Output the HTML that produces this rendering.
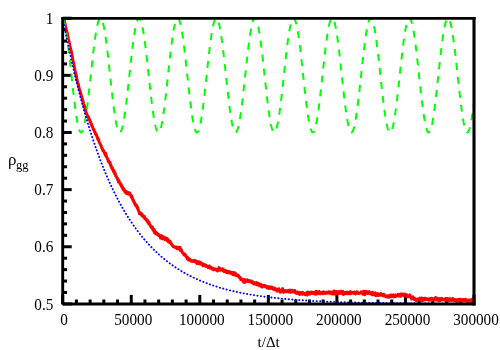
<!DOCTYPE html>
<html><head><meta charset="utf-8"><title>plot</title>
<style>
html,body{margin:0;padding:0;background:#fff;}
body{width:500px;height:350px;overflow:hidden;}
svg{display:block;will-change:transform;transform:translateZ(0);}
text{font-family:"Liberation Serif",serif;font-size:15px;fill:#000;}
</style></head><body>
<svg width="500" height="350" viewBox="0 0 500 350">
<rect width="500" height="350" fill="#fff"/>
<defs><clipPath id="c"><rect x="62.7" y="18.2" width="411.3" height="285.7"/></clipPath></defs>
<g stroke="#000" stroke-width="3" fill="none">
<line x1="62.70" y1="303.90" x2="62.70" y2="294.90"/><line x1="76.41" y1="303.90" x2="76.41" y2="299.50"/><line x1="90.12" y1="303.90" x2="90.12" y2="299.50"/><line x1="103.83" y1="303.90" x2="103.83" y2="299.50"/><line x1="117.54" y1="303.90" x2="117.54" y2="299.50"/><line x1="131.25" y1="303.90" x2="131.25" y2="294.90"/><line x1="144.96" y1="303.90" x2="144.96" y2="299.50"/><line x1="158.67" y1="303.90" x2="158.67" y2="299.50"/><line x1="172.38" y1="303.90" x2="172.38" y2="299.50"/><line x1="186.09" y1="303.90" x2="186.09" y2="299.50"/><line x1="199.80" y1="303.90" x2="199.80" y2="294.90"/><line x1="213.51" y1="303.90" x2="213.51" y2="299.50"/><line x1="227.22" y1="303.90" x2="227.22" y2="299.50"/><line x1="240.93" y1="303.90" x2="240.93" y2="299.50"/><line x1="254.64" y1="303.90" x2="254.64" y2="299.50"/><line x1="268.35" y1="303.90" x2="268.35" y2="294.90"/><line x1="282.06" y1="303.90" x2="282.06" y2="299.50"/><line x1="295.77" y1="303.90" x2="295.77" y2="299.50"/><line x1="309.48" y1="303.90" x2="309.48" y2="299.50"/><line x1="323.19" y1="303.90" x2="323.19" y2="299.50"/><line x1="336.90" y1="303.90" x2="336.90" y2="294.90"/><line x1="350.61" y1="303.90" x2="350.61" y2="299.50"/><line x1="364.32" y1="303.90" x2="364.32" y2="299.50"/><line x1="378.03" y1="303.90" x2="378.03" y2="299.50"/><line x1="391.74" y1="303.90" x2="391.74" y2="299.50"/><line x1="405.45" y1="303.90" x2="405.45" y2="294.90"/><line x1="419.16" y1="303.90" x2="419.16" y2="299.50"/><line x1="432.87" y1="303.90" x2="432.87" y2="299.50"/><line x1="446.58" y1="303.90" x2="446.58" y2="299.50"/><line x1="460.29" y1="303.90" x2="460.29" y2="299.50"/><line x1="474.00" y1="303.90" x2="474.00" y2="294.90"/><line x1="62.70" y1="303.90" x2="71.70" y2="303.90"/><line x1="62.70" y1="292.47" x2="67.10" y2="292.47"/><line x1="62.70" y1="281.04" x2="67.10" y2="281.04"/><line x1="62.70" y1="269.62" x2="67.10" y2="269.62"/><line x1="62.70" y1="258.19" x2="67.10" y2="258.19"/><line x1="62.70" y1="246.76" x2="71.70" y2="246.76"/><line x1="62.70" y1="235.33" x2="67.10" y2="235.33"/><line x1="62.70" y1="223.90" x2="67.10" y2="223.90"/><line x1="62.70" y1="212.48" x2="67.10" y2="212.48"/><line x1="62.70" y1="201.05" x2="67.10" y2="201.05"/><line x1="62.70" y1="189.62" x2="71.70" y2="189.62"/><line x1="62.70" y1="178.19" x2="67.10" y2="178.19"/><line x1="62.70" y1="166.76" x2="67.10" y2="166.76"/><line x1="62.70" y1="155.34" x2="67.10" y2="155.34"/><line x1="62.70" y1="143.91" x2="67.10" y2="143.91"/><line x1="62.70" y1="132.48" x2="71.70" y2="132.48"/><line x1="62.70" y1="121.05" x2="67.10" y2="121.05"/><line x1="62.70" y1="109.62" x2="67.10" y2="109.62"/><line x1="62.70" y1="98.20" x2="67.10" y2="98.20"/><line x1="62.70" y1="86.77" x2="67.10" y2="86.77"/><line x1="62.70" y1="75.34" x2="71.70" y2="75.34"/><line x1="62.70" y1="63.91" x2="67.10" y2="63.91"/><line x1="62.70" y1="52.48" x2="67.10" y2="52.48"/><line x1="62.70" y1="41.06" x2="67.10" y2="41.06"/><line x1="62.70" y1="29.63" x2="67.10" y2="29.63"/><line x1="62.70" y1="18.20" x2="71.70" y2="18.20"/>
</g>
<g clip-path="url(#c)" fill="none">
<path d="M62.70 18.20 L63.00 18.20 L63.30 18.20 L63.60 18.20 L63.90 18.20 L64.20 18.20 L64.50 19.23 L64.80 20.50 L65.10 22.02 L65.40 23.38 L65.70 24.85 L66.00 26.27 L66.30 27.41 L66.60 29.28 L66.90 30.67 L67.20 32.12" stroke="#ff0000" stroke-width="2.20" stroke-linejoin="round" stroke-linecap="round"/><path d="M66.90 30.67 L67.20 32.12 L67.50 33.07 L67.80 34.43 L68.10 36.00 L68.40 37.48 L68.70 39.06 L69.00 40.36 L69.30 41.89 L69.60 42.98 L69.90 44.62 L70.20 46.01 L70.50 47.06 L70.80 49.10 L71.10 50.18" stroke="#ff0000" stroke-width="2.45" stroke-linejoin="round" stroke-linecap="round"/><path d="M70.80 49.10 L71.10 50.18 L71.40 51.93 L71.70 52.92 L72.00 54.43 L72.30 56.11 L72.60 57.73 L72.90 59.53 L73.20 60.95 L73.50 62.26 L73.80 63.63 L74.10 65.31 L74.40 67.42 L74.70 68.16 L75.00 70.02 L75.30 71.57 L75.60 72.32 L75.90 74.39 L76.20 76.36" stroke="#ff0000" stroke-width="2.75" stroke-linejoin="round" stroke-linecap="round"/><path d="M75.90 74.39 L76.20 76.36 L76.50 76.54 L76.80 78.68 L77.10 80.13 L77.40 80.96 L77.70 82.62 L78.00 83.51 L78.30 84.04 L78.60 86.12 L78.90 87.18 L79.20 88.42 L79.50 89.75 L79.80 90.41 L80.10 91.41 L80.40 91.87 L80.70 93.79 L81.00 94.33 L81.30 95.48 L81.60 96.19 L81.90 97.40 L82.20 98.68 L82.50 100.59 L82.80 100.15 L83.10 101.47 L83.40 103.27 L83.70 104.85 L84.00 105.47 L84.30 105.33 L84.60 106.05 L84.90 108.43 L85.20 108.93 L85.50 109.76 L85.80 111.79 L86.10 112.76 L86.40 112.99 L86.70 113.72 L87.00 114.50 L87.30 115.75 L87.60 115.96 L87.90 116.60 L88.20 117.30 L88.50 116.94 L88.80 119.03 L89.10 119.56 L89.40 120.03 L89.70 119.47 L90.00 120.83 L90.30 122.25 L90.60 121.60 L90.90 123.11 L91.20 124.40 L91.50 123.91 L91.80 126.07 L92.10 126.22 L92.40 126.55 L92.70 127.48 L93.00 128.33 L93.30 128.71 L93.60 129.89 L93.90 129.61 L94.20 130.39 L94.50 131.79 L94.80 131.91 L95.10 132.09 L95.40 133.69 L95.70 134.62 L96.00 134.27 L96.30 134.43 L96.60 135.73 L96.90 136.37 L97.20 136.94 L97.50 138.49 L97.80 137.86 L98.10 139.72 L98.40 139.03 L98.70 139.93 L99.00 141.34 L99.30 142.30 L99.60 142.86 L99.90 143.29 L100.20 143.88 L100.50 144.58 L100.80 145.51 L101.10 145.80 L101.40 146.75 L101.70 147.61 L102.00 148.00 L102.30 148.98 L102.60 149.43 L102.90 150.79 L103.20 150.43 L103.50 150.58 L103.80 151.17 L104.10 151.93 L104.40 153.01 L104.70 152.88 L105.00 153.84 L105.30 155.20 L105.60 153.33 L105.90 154.69 L106.20 156.05 L106.50 156.75 L106.80 157.28 L107.10 157.53 L107.40 158.75 L107.70 159.16 L108.00 159.33 L108.30 161.61 L108.60 161.06 L108.90 161.17 L109.20 162.04 L109.50 162.59 L109.80 163.30 L110.10 162.41 L110.40 164.30 L110.70 165.77 L111.00 165.15 L111.30 166.39 L111.60 167.59 L111.90 168.16 L112.20 169.14 L112.50 167.93 L112.80 169.32 L113.10 169.95 L113.40 171.12 L113.70 172.01 L114.00 170.45 L114.30 173.19 L114.60 172.29 L114.90 174.08 L115.20 173.39 L115.50 174.91 L115.80 176.07 L116.10 175.85 L116.40 176.61 L116.70 177.53 L117.00 177.71 L117.30 178.14 L117.60 179.65 L117.90 179.93 L118.20 179.70 L118.50 182.05 L118.80 180.33 L119.10 182.10 L119.40 181.97 L119.70 182.77 L120.00 183.67 L120.30 183.94 L120.60 184.75 L120.90 184.03 L121.20 184.61 L121.50 186.43 L121.80 186.05 L122.10 186.53 L122.40 186.67 L122.70 188.70 L123.00 188.79 L123.30 189.63 L123.60 188.60 L123.90 189.57 L124.20 189.29 L124.50 190.83 L124.80 191.73 L125.10 190.65 L125.40 192.52 L125.70 192.59 L126.00 192.29 L126.30 191.31 L126.60 193.42 L126.90 192.61 L127.20 192.40 L127.50 193.09 L127.80 193.19 L128.10 193.93 L128.40 192.51 L128.70 193.89 L129.00 194.19 L129.30 194.26 L129.60 193.37 L129.90 193.12 L130.20 194.65 L130.50 194.77 L130.80 195.43 L131.10 196.88 L131.40 196.52 L131.70 195.95 L132.00 197.77 L132.30 197.43 L132.60 199.60 L132.90 199.84 L133.20 199.83 L133.50 200.74 L133.80 201.81 L134.10 201.90 L134.40 203.21 L134.70 202.91 L135.00 204.13 L135.30 204.96 L135.60 205.58 L135.90 204.74 L136.20 206.24 L136.50 205.10 L136.80 206.14 L137.10 206.15 L137.40 208.55 L137.70 207.70 L138.00 208.99 L138.30 209.78 L138.60 210.78 L138.90 211.34 L139.20 212.34 L139.50 213.60 L139.80 212.83 L140.10 213.43 L140.40 214.02 L140.70 213.58 L141.00 213.22 L141.30 213.96 L141.60 215.26 L141.90 213.88 L142.20 214.83 L142.50 216.12 L142.80 216.29 L143.10 216.10 L143.40 216.90 L143.70 216.80 L144.00 216.27 L144.30 216.43 L144.60 217.40 L144.90 218.77 L145.20 218.25 L145.50 218.44 L145.80 218.92 L146.10 218.85 L146.40 220.13 L146.70 219.87 L147.00 221.23 L147.30 219.93 L147.60 222.00 L147.90 221.80 L148.20 221.39 L148.50 223.45 L148.80 223.23 L149.10 222.41 L149.40 223.65 L149.70 224.78 L150.00 224.71 L150.30 225.89 L150.60 226.27 L150.90 226.62 L151.20 226.80 L151.50 227.83 L151.80 227.81 L152.10 228.08 L152.40 226.89 L152.70 229.16 L153.00 229.82 L153.30 229.21 L153.60 229.51 L153.90 231.42 L154.20 229.50 L154.50 231.29 L154.80 232.92 L155.10 231.22 L155.40 232.63 L155.70 233.79 L156.00 232.92 L156.30 233.58 L156.60 234.03 L156.90 233.12 L157.20 233.86 L157.50 234.33 L157.80 234.90 L158.10 234.59 L158.40 234.72 L158.70 234.43 L159.00 235.07 L159.30 236.09 L159.60 235.82 L159.90 235.45 L160.20 235.69 L160.50 238.13 L160.80 237.40 L161.10 237.31 L161.40 235.50 L161.70 237.76 L162.00 237.90 L162.30 238.75 L162.60 238.04 L162.90 237.81 L163.20 238.27 L163.50 236.79 L163.80 238.76 L164.10 238.39 L164.40 237.83 L164.70 239.19 L165.00 239.58 L165.30 237.64 L165.60 238.19 L165.90 238.88 L166.20 238.89 L166.50 238.61 L166.80 238.33 L167.10 240.46 L167.40 240.11 L167.70 239.04 L168.00 239.29 L168.30 241.57 L168.60 241.46 L168.90 242.33 L169.20 242.03 L169.50 241.30 L169.80 242.37 L170.10 241.17 L170.40 242.41 L170.70 243.19 L171.00 243.90 L171.30 243.45 L171.60 244.18 L171.90 244.89 L172.20 245.18 L172.50 245.69 L172.80 245.76 L173.10 245.77 L173.40 246.82 L173.70 246.69 L174.00 246.47 L174.30 246.70 L174.60 247.20 L174.90 247.23 L175.20 247.50 L175.50 247.50 L175.80 247.71 L176.10 247.61 L176.40 247.00 L176.70 248.17 L177.00 248.67 L177.30 248.38 L177.60 248.08 L177.90 248.58 L178.20 247.78 L178.50 247.29 L178.80 248.64 L179.10 248.11 L179.40 249.27 L179.70 248.21 L180.00 247.32 L180.30 248.70 L180.60 250.73 L180.90 249.84 L181.20 249.57 L181.50 250.31 L181.80 251.49 L182.10 251.84 L182.40 251.99 L182.70 253.19 L183.00 253.05 L183.30 252.95 L183.60 253.70 L183.90 254.74 L184.20 254.66 L184.50 255.06 L184.80 254.07 L185.10 255.00 L185.40 255.87 L185.70 255.51 L186.00 256.68 L186.30 256.68 L186.60 257.18 L186.90 256.76 L187.20 258.83 L187.50 258.30 L187.80 257.66 L188.10 258.16 L188.40 260.07 L188.70 258.48 L189.00 259.56 L189.30 259.93 L189.60 259.60 L189.90 259.15 L190.20 260.19 L190.50 260.40 L190.80 261.00 L191.10 260.88 L191.40 260.49 L191.70 261.13 L192.00 261.03 L192.30 260.91 L192.60 260.92 L192.90 260.83 L193.20 261.53 L193.50 260.51 L193.80 260.89 L194.10 261.40 L194.40 260.55 L194.70 261.32 L195.00 260.41 L195.30 261.36 L195.60 262.27 L195.90 262.37 L196.20 262.07 L196.50 262.06 L196.80 261.40 L197.10 263.59 L197.40 262.85 L197.70 263.32 L198.00 262.15 L198.30 262.70 L198.60 261.75 L198.90 263.53 L199.20 263.73 L199.50 262.01 L199.80 263.30 L200.10 263.85 L200.40 262.45 L200.70 262.55 L201.00 263.17 L201.30 263.59 L201.60 263.23 L201.90 264.29 L202.20 264.57 L202.50 264.96 L202.80 265.14 L203.10 265.79 L203.40 265.71 L203.70 264.26 L204.00 264.91 L204.30 264.70 L204.60 264.82 L204.90 265.60 L205.20 265.80 L205.50 266.25 L205.80 265.05 L206.10 265.41 L206.40 266.33 L206.70 266.35 L207.00 266.42 L207.30 266.72 L207.60 266.41 L207.90 267.49 L208.20 267.40 L208.50 267.25 L208.80 267.01 L209.10 267.47 L209.40 265.97 L209.70 267.23 L210.00 268.02 L210.30 267.13 L210.60 268.33 L210.90 268.40 L211.20 267.51 L211.50 268.34 L211.80 268.40 L212.10 269.00 L212.40 269.19 L212.70 268.88 L213.00 268.45 L213.30 269.01 L213.60 269.16 L213.90 269.77 L214.20 269.59 L214.50 269.03 L214.80 268.73 L215.10 269.46 L215.40 269.32 L215.70 269.18 L216.00 269.93 L216.30 269.60 L216.60 269.90 L216.90 270.09 L217.20 269.40 L217.50 271.08 L217.80 269.29 L218.10 270.12 L218.40 269.41 L218.70 269.96 L219.00 267.63 L219.30 268.59 L219.60 269.15 L219.90 269.30 L220.20 270.33 L220.50 268.95 L220.80 269.48 L221.10 269.15 L221.40 269.44 L221.70 269.32 L222.00 269.06 L222.30 269.66 L222.60 268.80 L222.90 270.43 L223.20 269.18 L223.50 270.16 L223.80 271.54 L224.10 270.19 L224.40 270.52 L224.70 271.42 L225.00 270.86 L225.30 270.49 L225.60 271.34 L225.90 271.72 L226.20 271.90 L226.50 271.02 L226.80 272.71 L227.10 272.73 L227.40 271.73 L227.70 271.96 L228.00 271.58 L228.30 272.84 L228.60 271.54 L228.90 272.50 L229.20 271.82 L229.50 271.75 L229.80 272.73 L230.10 273.20 L230.40 272.40 L230.70 272.04 L231.00 273.07 L231.30 272.58 L231.60 272.88 L231.90 273.73 L232.20 273.55 L232.50 272.55 L232.80 274.43 L233.10 273.06 L233.40 273.75 L233.70 273.00 L234.00 273.57 L234.30 272.65 L234.60 275.11 L234.90 275.02 L235.20 273.53 L235.50 273.53 L235.80 273.63 L236.10 275.62 L236.40 274.74 L236.70 275.18 L237.00 275.20 L237.30 275.50 L237.60 275.06 L237.90 275.96 L238.20 275.25 L238.50 276.41 L238.80 276.94 L239.10 277.31 L239.40 277.14 L239.70 276.98 L240.00 277.94 L240.30 277.80 L240.60 279.41 L240.90 279.17 L241.20 278.87 L241.50 278.91 L241.80 279.04 L242.10 279.16 L242.40 279.82 L242.70 280.51 L243.00 280.93 L243.30 281.00 L243.60 282.03 L243.90 280.25 L244.20 280.75 L244.50 282.58 L244.80 279.60 L245.10 280.50 L245.40 280.98 L245.70 281.01 L246.00 281.21 L246.30 280.82 L246.60 281.25 L246.90 281.08 L247.20 281.58 L247.50 279.89 L247.80 280.58 L248.10 281.18 L248.40 280.55 L248.70 280.57 L249.00 281.69 L249.30 280.90 L249.60 281.77 L249.90 281.87 L250.20 281.67 L250.50 281.91 L250.80 281.62 L251.10 280.88 L251.40 281.88 L251.70 282.31 L252.00 281.78 L252.30 282.16 L252.60 282.82 L252.90 281.87 L253.20 282.97 L253.50 283.87 L253.80 282.41 L254.10 282.97 L254.40 282.89 L254.70 284.09 L255.00 283.41 L255.30 283.89 L255.60 282.97 L255.90 283.51 L256.20 283.63 L256.50 282.59 L256.80 284.78 L257.10 284.54 L257.40 282.93 L257.70 284.65 L258.00 284.19 L258.30 284.68 L258.60 284.73 L258.90 283.63 L259.20 284.57 L259.50 285.79 L259.80 284.56 L260.10 284.36 L260.40 284.23 L260.70 284.40 L261.00 285.50 L261.30 286.46 L261.60 285.73 L261.90 285.69 L262.20 287.06 L262.50 285.36 L262.80 285.35 L263.10 286.21 L263.40 286.31 L263.70 285.38 L264.00 285.36 L264.30 286.39 L264.60 286.45 L264.90 285.52 L265.20 286.32 L265.50 286.19 L265.80 286.92 L266.10 286.63 L266.40 286.74 L266.70 286.65 L267.00 287.64 L267.30 287.95 L267.60 286.89 L267.90 287.76 L268.20 286.80 L268.50 287.43 L268.80 287.95 L269.10 288.53 L269.40 287.38 L269.70 287.67 L270.00 287.93 L270.30 286.91 L270.60 287.97 L270.90 287.61 L271.20 288.37 L271.50 287.48 L271.80 287.01 L272.10 288.40 L272.40 288.62 L272.70 288.18 L273.00 289.20 L273.30 288.52 L273.60 288.39 L273.90 289.17 L274.20 287.93 L274.50 288.59 L274.80 289.10 L275.10 289.74 L275.40 289.17 L275.70 289.55 L276.00 289.01 L276.30 289.71 L276.60 290.68 L276.90 289.24 L277.20 291.30 L277.50 289.43 L277.80 289.94 L278.10 290.12 L278.40 290.76 L278.70 289.37 L279.00 288.89 L279.30 290.73 L279.60 290.93 L279.90 290.90 L280.20 292.29 L280.50 290.80 L280.80 290.91 L281.10 291.41 L281.40 291.05 L281.70 291.91 L282.00 290.03 L282.30 290.60 L282.60 288.62 L282.90 291.40 L283.20 290.64 L283.50 291.49 L283.80 292.30 L284.10 290.91 L284.40 290.76 L284.70 290.61 L285.00 290.40 L285.30 290.55 L285.60 291.38 L285.90 291.00 L286.20 291.03 L286.50 290.89 L286.80 291.60 L287.10 291.34 L287.40 290.94 L287.70 291.48 L288.00 290.96 L288.30 290.32 L288.60 292.02 L288.90 291.39 L289.20 290.48 L289.50 291.81 L289.80 291.34 L290.10 290.12 L290.40 292.19 L290.70 291.37 L291.00 291.74 L291.30 291.30 L291.60 291.09 L291.90 290.19 L292.20 291.88 L292.50 291.33 L292.80 291.20 L293.10 291.68 L293.40 291.57 L293.70 292.03 L294.00 291.41 L294.30 291.70 L294.60 290.40 L294.90 291.58 L295.20 292.37 L295.50 292.86 L295.80 291.83 L296.10 292.05 L296.40 293.23 L296.70 292.06 L297.00 292.81 L297.30 293.49 L297.60 292.50 L297.90 293.34 L298.20 292.15 L298.50 292.81 L298.80 292.70 L299.10 292.89 L299.40 293.62 L299.70 294.50 L300.00 292.59 L300.30 292.71 L300.60 293.48 L300.90 292.54 L301.20 293.61 L301.50 293.73 L301.80 293.25 L302.10 293.84 L302.40 292.56 L302.70 294.13 L303.00 292.70 L303.30 293.23 L303.60 293.30 L303.90 293.38 L304.20 294.18 L304.50 293.66 L304.80 293.33 L305.10 293.92 L305.40 294.57 L305.70 293.53 L306.00 293.75 L306.30 294.30 L306.60 293.64 L306.90 292.62 L307.20 295.05 L307.50 294.85 L307.80 292.11 L308.10 293.35 L308.40 293.63 L308.70 293.96 L309.00 293.75 L309.30 293.12 L309.60 292.60 L309.90 293.33 L310.20 293.91 L310.50 292.51 L310.80 292.54 L311.10 293.17 L311.40 291.91 L311.70 292.98 L312.00 292.84 L312.30 293.40 L312.60 292.63 L312.90 292.50 L313.20 292.79 L313.50 293.00 L313.80 292.58 L314.10 293.00 L314.40 293.47 L314.70 293.74 L315.00 294.07 L315.30 292.44 L315.60 292.67 L315.90 291.32 L316.20 294.15 L316.50 292.44 L316.80 292.88 L317.10 293.23 L317.40 291.99 L317.70 293.17 L318.00 292.84 L318.30 291.66 L318.60 293.02 L318.90 293.60 L319.20 291.60 L319.50 293.32 L319.80 292.92 L320.10 293.09 L320.40 293.05 L320.70 293.60 L321.00 292.60 L321.30 293.30 L321.60 292.46 L321.90 293.19 L322.20 292.17 L322.50 292.62 L322.80 293.80 L323.10 292.96 L323.40 292.56 L323.70 291.90 L324.00 292.12 L324.30 292.75 L324.60 293.22 L324.90 292.88 L325.20 292.94 L325.50 292.57 L325.80 293.48 L326.10 292.35 L326.40 292.24 L326.70 293.18 L327.00 292.64 L327.30 292.42 L327.60 292.23 L327.90 292.43 L328.20 293.00 L328.50 292.83 L328.80 291.81 L329.10 292.88 L329.40 292.72 L329.70 291.95 L330.00 293.10 L330.30 292.42 L330.60 292.38 L330.90 293.12 L331.20 293.46 L331.50 292.15 L331.80 292.88 L332.10 292.03 L332.40 294.10 L332.70 292.28 L333.00 293.38 L333.30 292.18 L333.60 293.13 L333.90 294.04 L334.20 290.95 L334.50 292.32 L334.80 292.93 L335.10 292.54 L335.40 292.17 L335.70 294.00 L336.00 292.65 L336.30 291.54 L336.60 293.18 L336.90 291.51 L337.20 293.39 L337.50 292.28 L337.80 292.76 L338.10 293.50 L338.40 292.76 L338.70 291.79 L339.00 291.61 L339.30 293.49 L339.60 293.21 L339.90 292.21 L340.20 293.31 L340.50 293.09 L340.80 293.20 L341.10 291.32 L341.40 292.60 L341.70 293.39 L342.00 293.29 L342.30 293.40 L342.60 291.24 L342.90 292.96 L343.20 293.18 L343.50 294.53 L343.80 292.26 L344.10 292.68 L344.40 292.93 L344.70 293.49 L345.00 292.64 L345.30 293.68 L345.60 292.44 L345.90 293.13 L346.20 292.63 L346.50 293.08 L346.80 292.54 L347.10 291.96 L347.40 293.71 L347.70 293.20 L348.00 292.64 L348.30 293.13 L348.60 293.64 L348.90 292.37 L349.20 292.93 L349.50 293.35 L349.80 293.34 L350.10 292.78 L350.40 291.63 L350.70 293.81 L351.00 293.21 L351.30 293.01 L351.60 292.82 L351.90 293.17 L352.20 292.72 L352.50 292.33 L352.80 292.52 L353.10 292.61 L353.40 292.60 L353.70 292.25 L354.00 293.41 L354.30 292.15 L354.60 293.43 L354.90 292.34 L355.20 293.23 L355.50 293.89 L355.80 293.13 L356.10 292.53 L356.40 293.03 L356.70 293.10 L357.00 291.87 L357.30 292.61 L357.60 293.11 L357.90 292.70 L358.20 293.05 L358.50 293.48 L358.80 293.50 L359.10 293.59 L359.40 293.38 L359.70 292.81 L360.00 292.99 L360.30 292.82 L360.60 292.80 L360.90 292.88 L361.20 291.88 L361.50 292.78 L361.80 292.98 L362.10 292.37 L362.40 292.98 L362.70 293.33 L363.00 292.89 L363.30 294.35 L363.60 291.31 L363.90 292.87 L364.20 291.81 L364.50 293.64 L364.80 294.72 L365.10 291.37 L365.40 293.08 L365.70 293.34 L366.00 292.80 L366.30 293.36 L366.60 291.54 L366.90 293.55 L367.20 293.24 L367.50 293.01 L367.80 292.62 L368.10 293.41 L368.40 292.68 L368.70 293.14 L369.00 292.67 L369.30 291.59 L369.60 293.08 L369.90 293.28 L370.20 293.69 L370.50 292.68 L370.80 293.28 L371.10 293.75 L371.40 293.49 L371.70 294.26 L372.00 294.79 L372.30 292.96 L372.60 292.35 L372.90 294.21 L373.20 294.69 L373.50 294.35 L373.80 294.33 L374.10 293.45 L374.40 293.44 L374.70 294.53 L375.00 293.41 L375.30 292.87 L375.60 293.45 L375.90 295.77 L376.20 295.45 L376.50 293.80 L376.80 293.83 L377.10 294.50 L377.40 293.91 L377.70 295.30 L378.00 294.45 L378.30 293.85 L378.60 295.46 L378.90 294.29 L379.20 294.87 L379.50 294.77 L379.80 294.63 L380.10 295.10 L380.40 294.50 L380.70 293.81 L381.00 293.63 L381.30 294.30 L381.60 294.68 L381.90 295.22 L382.20 295.32 L382.50 295.71 L382.80 295.48 L383.10 294.94 L383.40 295.05 L383.70 294.19 L384.00 295.52 L384.30 296.00 L384.60 296.08 L384.90 295.71 L385.20 295.74 L385.50 296.51 L385.80 295.97 L386.10 296.50 L386.40 296.45 L386.70 296.27 L387.00 297.04 L387.30 295.87 L387.60 296.07 L387.90 295.74 L388.20 295.71 L388.50 297.20 L388.80 297.29 L389.10 296.13 L389.40 296.44 L389.70 296.80 L390.00 296.52 L390.30 296.75 L390.60 295.10 L390.90 295.47 L391.20 296.14 L391.50 296.75 L391.80 295.84 L392.10 295.18 L392.40 295.47 L392.70 295.23 L393.00 295.07 L393.30 296.56 L393.60 295.14 L393.90 295.53 L394.20 296.88 L394.50 296.21 L394.80 295.62 L395.10 294.96 L395.40 295.59 L395.70 296.34 L396.00 295.65 L396.30 296.03 L396.60 295.25 L396.90 295.51 L397.20 295.02 L397.50 295.41 L397.80 295.96 L398.10 294.17 L398.40 295.04 L398.70 295.22 L399.00 294.67 L399.30 294.82 L399.60 295.52 L399.90 296.29 L400.20 295.38 L400.50 295.16 L400.80 293.93 L401.10 296.17 L401.40 294.95 L401.70 294.86 L402.00 294.13 L402.30 294.81 L402.60 294.11 L402.90 294.85 L403.20 295.15 L403.50 294.93 L403.80 295.16 L404.10 294.50 L404.40 296.05 L404.70 294.76 L405.00 294.07 L405.30 295.20 L405.60 294.89 L405.90 294.80 L406.20 295.30 L406.50 295.78 L406.80 294.90 L407.10 295.64 L407.40 296.73 L407.70 296.31 L408.00 295.84 L408.30 296.09 L408.60 295.99 L408.90 296.11 L409.20 296.68 L409.50 296.22 L409.80 294.87 L410.10 296.62 L410.40 296.25 L410.70 297.45 L411.00 296.83 L411.30 297.52 L411.60 299.03 L411.90 297.14 L412.20 297.28 L412.50 297.29 L412.80 296.85 L413.10 297.39 L413.40 299.04 L413.70 298.59 L414.00 297.99 L414.30 298.24 L414.60 299.60 L414.90 298.70 L415.20 298.96 L415.50 299.41 L415.80 300.08 L416.10 300.46 L416.40 299.87 L416.70 299.29 L417.00 299.32 L417.30 300.37 L417.60 300.13 L417.90 299.00 L418.20 299.50 L418.50 299.39 L418.80 299.23 L419.10 298.88 L419.40 298.34 L419.70 298.85 L420.00 298.20 L420.30 300.00 L420.60 299.55 L420.90 298.42 L421.20 300.11 L421.50 299.78 L421.80 297.96 L422.10 300.40 L422.40 299.73 L422.70 300.54 L423.00 298.40 L423.30 299.54 L423.60 299.47 L423.90 299.33 L424.20 299.31 L424.50 299.88 L424.80 298.23 L425.10 298.39 L425.40 298.29 L425.70 298.84 L426.00 298.81 L426.30 299.44 L426.60 299.37 L426.90 299.22 L427.20 298.76 L427.50 298.91 L427.80 299.82 L428.10 299.70 L428.40 299.27 L428.70 298.99 L429.00 300.21 L429.30 298.81 L429.60 299.62 L429.90 299.95 L430.20 299.03 L430.50 299.74 L430.80 298.47 L431.10 299.86 L431.40 299.33 L431.70 298.17 L432.00 299.64 L432.30 298.62 L432.60 300.03 L432.90 298.76 L433.20 299.09 L433.50 299.38 L433.80 298.98 L434.10 299.37 L434.40 298.84 L434.70 299.64 L435.00 299.20 L435.30 299.34 L435.60 297.41 L435.90 299.95 L436.20 299.23 L436.50 298.06 L436.80 299.29 L437.10 299.54 L437.40 299.95 L437.70 298.56 L438.00 300.28 L438.30 299.18 L438.60 300.85 L438.90 299.21 L439.20 299.76 L439.50 299.09 L439.80 298.61 L440.10 300.06 L440.40 299.95 L440.70 300.37 L441.00 299.94 L441.30 299.02 L441.60 298.32 L441.90 298.99 L442.20 298.99 L442.50 298.91 L442.80 299.83 L443.10 299.67 L443.40 299.29 L443.70 299.59 L444.00 299.40 L444.30 299.64 L444.60 300.00 L444.90 300.15 L445.20 299.09 L445.50 298.57 L445.80 300.48 L446.10 299.64 L446.40 300.30 L446.70 298.52 L447.00 299.39 L447.30 299.63 L447.60 298.68 L447.90 299.30 L448.20 300.11 L448.50 300.36 L448.80 300.70 L449.10 299.12 L449.40 298.78 L449.70 300.04 L450.00 300.32 L450.30 299.85 L450.60 298.89 L450.90 300.25 L451.20 300.27 L451.50 300.12 L451.80 299.46 L452.10 299.98 L452.40 300.31 L452.70 299.44 L453.00 298.62 L453.30 300.04 L453.60 300.15 L453.90 299.86 L454.20 300.44 L454.50 299.49 L454.80 299.83 L455.10 299.70 L455.40 300.28 L455.70 300.95 L456.00 299.76 L456.30 301.27 L456.60 300.94 L456.90 300.47 L457.20 300.35 L457.50 301.13 L457.80 299.88 L458.10 299.93 L458.40 299.34 L458.70 300.36 L459.00 300.95 L459.30 300.44 L459.60 300.40 L459.90 300.01 L460.20 300.28 L460.50 299.26 L460.80 300.89 L461.10 299.97 L461.40 299.54 L461.70 299.79 L462.00 299.77 L462.30 300.88 L462.60 301.04 L462.90 299.49 L463.20 301.00 L463.50 300.99 L463.80 300.06 L464.10 299.50 L464.40 300.00 L464.70 300.10 L465.00 300.75 L465.30 300.32 L465.60 299.26 L465.90 300.75 L466.20 299.62 L466.50 301.23 L466.80 299.88 L467.10 300.24 L467.40 300.16 L467.70 300.38 L468.00 301.60 L468.30 301.33 L468.60 301.19 L468.90 301.03 L469.20 299.84 L469.50 300.53 L469.80 300.54 L470.10 300.28 L470.40 301.27 L470.70 300.48 L471.00 300.52 L471.30 300.32 L471.60 299.66 L471.90 301.39 L472.20 301.87 L472.50 301.11 L472.80 300.37 L473.10 299.24 L473.40 301.11 L473.70 301.79 L474.00 301.19" stroke="#ff0000" stroke-width="3.00" stroke-linejoin="round" stroke-linecap="round"/>
<path d="M62.70 18.81 L63.20 19.68 L63.70 20.91 L64.20 22.50 L64.70 24.44 L65.20 26.72 L65.70 29.32 L66.20 32.23 L66.70 35.42 L67.20 38.87 L67.70 42.56 L68.20 46.48 L68.70 50.58 L69.20 54.84 L69.70 59.25 L70.20 63.75 L70.70 68.34 L71.20 72.97 L71.70 77.62 L72.20 82.25 L72.70 86.83 L73.20 91.34 L73.70 95.75 L74.20 100.02 L74.70 104.12 L75.20 108.04 L75.70 111.74 L76.20 115.20 L76.70 118.39 L77.20 121.30 L77.70 123.91 L78.20 126.20 L78.70 128.14 L79.20 129.74 L79.70 130.98 L80.20 131.85 L80.70 132.35 L81.20 132.47 L81.70 132.22 L82.20 131.58 L82.70 130.58 L83.20 129.21 L83.70 127.48 L84.20 125.41 L84.70 123.01 L85.20 120.29 L85.70 117.27 L86.20 113.98 L86.70 110.43 L87.20 106.65 L87.70 102.67 L88.20 98.50 L88.70 94.18 L89.20 89.73 L89.70 85.19 L90.20 80.58 L90.70 75.94 L91.20 71.30 L91.70 66.68 L92.20 62.12 L92.70 57.65 L93.20 53.29 L93.70 49.08 L94.20 45.04 L94.70 41.21 L95.20 37.60 L95.70 34.24 L96.20 31.15 L96.70 28.35 L97.20 25.86 L97.70 23.70 L98.20 21.89 L98.70 20.42 L99.20 19.32 L99.70 18.59 L100.20 18.24 L100.70 18.26 L101.20 18.66 L101.70 19.43 L102.20 20.58 L102.70 22.09 L103.20 23.95 L103.70 26.14 L104.20 28.67 L104.70 31.50 L105.20 34.62 L105.70 38.02 L106.20 41.66 L106.70 45.52 L107.20 49.58 L107.70 53.81 L108.20 58.18 L108.70 62.66 L109.20 67.23 L109.70 71.86 L110.20 76.50 L110.70 81.14 L111.20 85.74 L111.70 90.27 L112.20 94.70 L112.70 99.01 L113.20 103.16 L113.70 107.12 L114.20 110.87 L114.70 114.39 L115.20 117.65 L115.70 120.63 L116.20 123.31 L116.70 125.68 L117.20 127.71 L117.70 129.39 L118.20 130.72 L118.70 131.68 L119.20 132.27 L119.70 132.48 L120.20 132.31 L120.70 131.77 L121.20 130.85 L121.70 129.57 L122.20 127.93 L122.70 125.94 L123.20 123.61 L123.70 120.97 L124.20 118.02 L124.70 114.80 L125.20 111.31 L125.70 107.58 L126.20 103.64 L126.70 99.51 L127.20 95.23 L127.70 90.81 L128.20 86.29 L128.70 81.69 L129.20 77.06 L129.70 72.41 L130.20 67.79 L130.70 63.21 L131.20 58.71 L131.70 54.32 L132.20 50.08 L132.70 46.00 L133.20 42.11 L133.70 38.44 L134.20 35.02 L134.70 31.86 L135.20 28.99 L135.70 26.43 L136.20 24.19 L136.70 22.29 L137.20 20.74 L137.70 19.55 L138.20 18.73 L138.70 18.29 L139.20 18.22 L139.70 18.53 L140.20 19.21 L140.70 20.27 L141.20 21.69 L141.70 23.47 L142.20 25.59 L142.70 28.03 L143.20 30.79 L143.70 33.85 L144.20 37.18 L144.70 40.76 L145.20 44.57 L145.70 48.59 L146.20 52.78 L146.70 57.12 L147.20 61.58 L147.70 66.13 L148.20 70.74 L148.70 75.39 L149.20 80.03 L149.70 84.64 L150.20 89.19 L150.70 93.65 L151.20 97.99 L151.70 102.18 L152.20 106.19 L152.70 109.99 L153.20 113.57 L153.70 116.89 L154.20 119.94 L154.70 122.70 L155.20 125.14 L155.70 127.25 L156.20 129.02 L156.70 130.43 L157.20 131.48 L157.70 132.16 L158.20 132.46 L158.70 132.39 L159.20 131.93 L159.70 131.11 L160.20 129.91 L160.70 128.35 L161.20 126.45 L161.70 124.20 L162.20 121.63 L162.70 118.76 L163.20 115.60 L163.70 112.17 L164.20 108.50 L164.70 104.60 L165.20 100.52 L165.70 96.27 L166.20 91.88 L166.70 87.38 L167.20 82.80 L167.70 78.17 L168.20 73.53 L168.70 68.89 L169.20 64.30 L169.70 59.78 L170.20 55.37 L170.70 51.08 L171.20 46.96 L171.70 43.02 L172.20 39.30 L172.70 35.82 L173.20 32.59 L173.70 29.65 L174.20 27.02 L174.70 24.70 L175.20 22.72 L175.70 21.08 L176.20 19.80 L176.70 18.90 L177.20 18.36 L177.70 18.20 L178.20 18.42 L178.70 19.02 L179.20 19.98 L179.70 21.32 L180.20 23.01 L180.70 25.05 L181.20 27.42 L181.70 30.10 L182.20 33.09 L182.70 36.36 L183.20 39.88 L183.70 43.64 L184.20 47.61 L184.70 51.76 L185.20 56.06 L185.70 60.50 L186.20 65.03 L186.70 69.63 L187.20 74.27 L187.70 78.92 L188.20 83.54 L188.70 88.11 L189.20 92.59 L189.70 96.96 L190.20 101.19 L190.70 105.24 L191.20 109.10 L191.70 112.73 L192.20 116.12 L192.70 119.24 L193.20 122.06 L193.70 124.58 L194.20 126.78 L194.70 128.63 L195.20 130.13 L195.70 131.26 L196.20 132.03 L196.70 132.42 L197.20 132.44 L197.70 132.08 L198.20 131.34 L198.70 130.23 L199.20 128.76 L199.70 126.94 L200.20 124.77 L200.70 122.28 L201.20 119.47 L201.70 116.38 L202.20 113.01 L202.70 109.40 L203.20 105.56 L203.70 101.52 L204.20 97.30 L204.70 92.94 L205.20 88.47 L205.70 83.91 L206.20 79.29 L206.70 74.64 L207.20 70.00 L207.70 65.40 L208.20 60.86 L208.70 56.41 L209.20 52.10 L209.70 47.93 L210.20 43.95 L210.70 40.17 L211.20 36.63 L211.70 33.34 L212.20 30.33 L212.70 27.62 L213.20 25.22 L213.70 23.16 L214.20 21.44 L214.70 20.08 L215.20 19.08 L215.70 18.45 L216.20 18.20 L216.70 18.33 L217.20 18.84 L217.70 19.72 L218.20 20.97 L218.70 22.57 L219.20 24.53 L219.70 26.82 L220.20 29.43 L220.70 32.35 L221.20 35.55 L221.70 39.01 L222.20 42.72 L222.70 46.64 L223.20 50.75 L223.70 55.02 L224.20 59.42 L224.70 63.94 L225.20 68.52 L225.70 73.16 L226.20 77.80 L226.70 82.43 L227.20 87.02 L227.70 91.52 L228.20 95.92 L228.70 100.19 L229.20 104.28 L229.70 108.19 L230.20 111.88 L230.70 115.33 L231.20 118.52 L231.70 121.41 L232.20 124.01 L232.70 126.28 L233.20 128.21 L233.70 129.80 L234.20 131.03 L234.70 131.88 L235.20 132.37 L235.70 132.47 L236.20 132.20 L236.70 131.55 L237.20 130.53 L237.70 129.15 L238.20 127.41 L238.70 125.32 L239.20 122.90 L239.70 120.17 L240.20 117.15 L240.70 113.85 L241.20 110.29 L241.70 106.50 L242.20 102.50 L242.70 98.33 L243.20 94.00 L243.70 89.55 L244.20 85.01 L244.70 80.40 L245.20 75.76 L245.70 71.11 L246.20 66.50 L246.70 61.94 L247.20 57.47 L247.70 53.12 L248.20 48.92 L248.70 44.89 L249.20 41.06 L249.70 37.46 L250.20 34.11 L250.70 31.03 L251.20 28.24 L251.70 25.77 L252.20 23.62 L252.70 21.82 L253.20 20.37 L253.70 19.29 L254.20 18.57 L254.70 18.23 L255.20 18.27 L255.70 18.68 L256.20 19.47 L256.70 20.63 L257.20 22.15 L257.70 24.03 L258.20 26.24 L258.70 28.78 L259.20 31.62 L259.70 34.76 L260.20 38.16 L260.70 41.81 L261.20 45.68 L261.70 49.74 L262.20 53.98 L262.70 58.36 L263.20 62.85 L263.70 67.42 L264.20 72.04 L264.70 76.69 L265.20 81.33 L265.70 85.92 L266.20 90.45 L266.70 94.88 L267.20 99.18 L267.70 103.32 L268.20 107.27 L268.70 111.02 L269.20 114.53 L269.70 117.78 L270.20 120.75 L270.70 123.41 L271.20 125.76 L271.70 127.78 L272.20 129.45 L272.70 130.76 L273.20 131.71 L273.70 132.28 L274.20 132.48 L274.70 132.30 L275.20 131.74 L275.70 130.81 L276.20 129.51 L276.70 127.86 L277.20 125.85 L277.70 123.51 L278.20 120.86 L278.70 117.90 L279.20 114.66 L279.70 111.16 L280.20 107.43 L280.70 103.48 L281.20 99.35 L281.70 95.05 L282.20 90.63 L282.70 86.11 L283.20 81.51 L283.70 76.87 L284.20 72.23 L284.70 67.60 L285.20 63.03 L285.70 58.53 L286.20 54.15 L286.70 49.91 L287.20 45.84 L287.70 41.96 L288.20 38.30 L288.70 34.89 L289.20 31.74 L289.70 28.88 L290.20 26.33 L290.70 24.11 L291.20 22.22 L291.70 20.69 L292.20 19.51 L292.70 18.71 L293.20 18.28 L293.70 18.22 L294.20 18.55 L294.70 19.25 L295.20 20.32 L295.70 21.76 L296.20 23.55 L296.70 25.68 L297.20 28.14 L297.70 30.91 L298.20 33.98 L298.70 37.32 L299.20 40.91 L299.70 44.73 L300.20 48.75 L300.70 52.95 L301.20 57.29 L301.70 61.76 L302.20 66.31 L302.70 70.93 L303.20 75.57 L303.70 80.21 L304.20 84.82 L304.70 89.37 L305.20 93.83 L305.70 98.16 L306.20 102.34 L306.70 106.34 L307.20 110.14 L307.70 113.71 L308.20 117.02 L308.70 120.06 L309.20 122.80 L309.70 125.23 L310.20 127.33 L310.70 129.08 L311.20 130.48 L311.70 131.52 L312.20 132.18 L312.70 132.47 L313.20 132.38 L313.70 131.91 L314.20 131.07 L314.70 129.86 L315.20 128.28 L315.70 126.36 L316.20 124.10 L316.70 121.52 L317.20 118.64 L317.70 115.46 L318.20 112.03 L318.70 108.34 L319.20 104.45 L319.70 100.35 L320.20 96.10 L320.70 91.70 L321.20 87.20 L321.70 82.62 L322.20 77.99 L322.70 73.34 L323.20 68.71 L323.70 64.12 L324.20 59.60 L324.70 55.19 L325.20 50.91 L325.70 46.80 L326.20 42.87 L326.70 39.16 L327.20 35.68 L327.70 32.47 L328.20 29.54 L328.70 26.92 L329.20 24.61 L329.70 22.64 L330.20 21.02 L330.70 19.76 L331.20 18.87 L331.70 18.35 L332.20 18.20 L332.70 18.44 L333.20 19.05 L333.70 20.03 L334.20 21.38 L334.70 23.08 L335.20 25.14 L335.70 27.52 L336.20 30.22 L336.70 33.22 L337.20 36.49 L337.70 40.03 L338.20 43.79 L338.70 47.77 L339.20 51.93 L339.70 56.24 L340.20 60.68 L340.70 65.21 L341.20 69.82 L341.70 74.46 L342.20 79.10 L342.70 83.72 L343.20 88.29 L343.70 92.77 L344.20 97.13 L344.70 101.35 L345.20 105.40 L345.70 109.25 L346.20 112.87 L346.70 116.25 L347.20 119.36 L347.70 122.17 L348.20 124.68 L348.70 126.86 L349.20 128.69 L349.70 130.18 L350.20 131.30 L350.70 132.06 L351.20 132.43 L351.70 132.43 L352.20 132.06 L352.70 131.30 L353.20 130.18 L353.70 128.69 L354.20 126.86 L354.70 124.68 L355.20 122.17 L355.70 119.36 L356.20 116.25 L356.70 112.87 L357.20 109.25 L357.70 105.40 L358.20 101.35 L358.70 97.13 L359.20 92.77 L359.70 88.29 L360.20 83.72 L360.70 79.10 L361.20 74.46 L361.70 69.82 L362.20 65.21 L362.70 60.68 L363.20 56.24 L363.70 51.93 L364.20 47.77 L364.70 43.79 L365.20 40.03 L365.70 36.49 L366.20 33.22 L366.70 30.22 L367.20 27.52 L367.70 25.14 L368.20 23.08 L368.70 21.38 L369.20 20.03 L369.70 19.05 L370.20 18.44 L370.70 18.20 L371.20 18.35 L371.70 18.87 L372.20 19.76 L372.70 21.02 L373.20 22.64 L373.70 24.61 L374.20 26.92 L374.70 29.54 L375.20 32.47 L375.70 35.68 L376.20 39.16 L376.70 42.87 L377.20 46.80 L377.70 50.91 L378.20 55.19 L378.70 59.60 L379.20 64.12 L379.70 68.71 L380.20 73.34 L380.70 77.99 L381.20 82.62 L381.70 87.20 L382.20 91.70 L382.70 96.10 L383.20 100.35 L383.70 104.45 L384.20 108.34 L384.70 112.03 L385.20 115.46 L385.70 118.64 L386.20 121.52 L386.70 124.10 L387.20 126.36 L387.70 128.28 L388.20 129.86 L388.70 131.07 L389.20 131.91 L389.70 132.38 L390.20 132.47 L390.70 132.18 L391.20 131.52 L391.70 130.48 L392.20 129.08 L392.70 127.33 L393.20 125.23 L393.70 122.80 L394.20 120.06 L394.70 117.02 L395.20 113.71 L395.70 110.14 L396.20 106.34 L396.70 102.34 L397.20 98.16 L397.70 93.83 L398.20 89.37 L398.70 84.82 L399.20 80.21 L399.70 75.57 L400.20 70.93 L400.70 66.31 L401.20 61.76 L401.70 57.29 L402.20 52.95 L402.70 48.75 L403.20 44.73 L403.70 40.91 L404.20 37.32 L404.70 33.98 L405.20 30.91 L405.70 28.14 L406.20 25.68 L406.70 23.55 L407.20 21.76 L407.70 20.32 L408.20 19.25 L408.70 18.55 L409.20 18.22 L409.70 18.28 L410.20 18.71 L410.70 19.51 L411.20 20.69 L411.70 22.22 L412.20 24.11 L412.70 26.33 L413.20 28.88 L413.70 31.74 L414.20 34.89 L414.70 38.30 L415.20 41.96 L415.70 45.84 L416.20 49.91 L416.70 54.15 L417.20 58.53 L417.70 63.03 L418.20 67.60 L418.70 72.23 L419.20 76.87 L419.70 81.51 L420.20 86.11 L420.70 90.63 L421.20 95.05 L421.70 99.35 L422.20 103.48 L422.70 107.43 L423.20 111.16 L423.70 114.66 L424.20 117.90 L424.70 120.86 L425.20 123.51 L425.70 125.85 L426.20 127.86 L426.70 129.51 L427.20 130.81 L427.70 131.74 L428.20 132.30 L428.70 132.48 L429.20 132.28 L429.70 131.71 L430.20 130.76 L430.70 129.45 L431.20 127.78 L431.70 125.76 L432.20 123.41 L432.70 120.75 L433.20 117.78 L433.70 114.53 L434.20 111.02 L434.70 107.27 L435.20 103.32 L435.70 99.18 L436.20 94.88 L436.70 90.45 L437.20 85.92 L437.70 81.33 L438.20 76.69 L438.70 72.04 L439.20 67.42 L439.70 62.85 L440.20 58.36 L440.70 53.98 L441.20 49.74 L441.70 45.68 L442.20 41.81 L442.70 38.16 L443.20 34.76 L443.70 31.62 L444.20 28.78 L444.70 26.24 L445.20 24.03 L445.70 22.15 L446.20 20.63 L446.70 19.47 L447.20 18.68 L447.70 18.27 L448.20 18.23 L448.70 18.57 L449.20 19.29 L449.70 20.37 L450.20 21.82 L450.70 23.62 L451.20 25.77 L451.70 28.24 L452.20 31.03 L452.70 34.11 L453.20 37.46 L453.70 41.06 L454.20 44.89 L454.70 48.92 L455.20 53.12 L455.70 57.47 L456.20 61.94 L456.70 66.50 L457.20 71.11 L457.70 75.76 L458.20 80.40 L458.70 85.01 L459.20 89.55 L459.70 94.00 L460.20 98.33 L460.70 102.50 L461.20 106.50 L461.70 110.29 L462.20 113.85 L462.70 117.15 L463.20 120.17 L463.70 122.90 L464.20 125.32 L464.70 127.41 L465.20 129.15 L465.70 130.53 L466.20 131.55 L466.70 132.20 L467.20 132.47 L467.70 132.37 L468.20 131.88 L468.70 131.03 L469.20 129.80 L469.70 128.21 L470.20 126.28 L470.70 124.01 L471.20 121.41 L471.70 118.52 L472.20 115.33 L472.70 111.88 L473.20 108.19 L473.70 104.28" stroke="#00ff00" stroke-width="2" stroke-dasharray="7 7.025" stroke-dashoffset="0"/>
<path d="M62.70 18.20 L63.20 20.79 L63.70 23.36 L64.20 25.91 L64.70 28.43 L65.20 30.93 L65.70 33.41 L66.20 35.86 L66.70 38.30 L67.20 40.71 L67.70 43.10 L68.20 45.46 L68.70 47.81 L69.20 50.13 L69.70 52.44 L70.20 54.72 L70.70 56.98 L71.20 59.22 L71.70 61.44 L72.20 63.64 L72.70 65.82 L73.20 67.98 L73.70 70.13 L74.20 72.25 L74.70 74.35 L75.20 76.43 L75.70 78.50 L76.20 80.54 L76.70 82.57 L77.20 84.58 L77.70 86.57 L78.20 88.54 L78.70 90.50 L79.20 92.43 L79.70 94.35 L80.20 96.25 L80.70 98.14 L81.20 100.01 L81.70 101.86 L82.20 103.69 L82.70 105.51 L83.20 107.31 L83.70 109.09 L84.20 110.86 L84.70 112.61 L85.20 114.35 L85.70 116.07 L86.20 117.77 L86.70 119.46 L87.20 121.14 L87.70 122.80 L88.20 124.44 L88.70 126.07 L89.20 127.68 L89.70 129.28 L90.20 130.87 L90.70 132.44 L91.20 133.99 L91.70 135.54 L92.20 137.06 L92.70 138.58 L93.20 140.08 L93.70 141.57 L94.20 143.04 L94.70 144.50 L95.20 145.95 L95.70 147.38 L96.20 148.80 L96.70 150.21 L97.20 151.60 L97.70 152.98 L98.20 154.35 L98.70 155.71 L99.20 157.06 L99.70 158.39 L100.20 159.71 L100.70 161.02 L101.20 162.32 L101.70 163.60 L102.20 164.87 L102.70 166.14 L103.20 167.39 L103.70 168.62 L104.20 169.85 L104.70 171.07 L105.20 172.27 L105.70 173.47 L106.20 174.65 L106.70 175.83 L107.20 176.99 L107.70 178.14 L108.20 179.28 L108.70 180.41 L109.20 181.53 L109.70 182.64 L110.20 183.74 L110.70 184.84 L111.20 185.92 L111.70 186.99 L112.20 188.05 L112.70 189.10 L113.20 190.14 L113.70 191.17 L114.20 192.20 L114.70 193.21 L115.20 194.22 L115.70 195.21 L116.20 196.20 L116.70 197.17 L117.20 198.14 L117.70 199.10 L118.20 200.05 L118.70 201.00 L119.20 201.93 L119.70 202.86 L120.20 203.77 L120.70 204.68 L121.20 205.58 L121.70 206.47 L122.20 207.36 L122.70 208.24 L123.20 209.10 L123.70 209.96 L124.20 210.82 L124.70 211.66 L125.20 212.50 L125.70 213.33 L126.20 214.15 L126.70 214.96 L127.20 215.77 L127.70 216.57 L128.20 217.36 L128.70 218.15 L129.20 218.93 L129.70 219.70 L130.20 220.46 L130.70 221.22 L131.20 221.97 L131.70 222.71 L132.20 223.45 L132.70 224.18 L133.20 224.91 L133.70 225.62 L134.20 226.33 L134.70 227.04 L135.20 227.73 L135.70 228.43 L136.20 229.11 L136.70 229.79 L137.20 230.46 L137.70 231.13 L138.20 231.79 L138.70 232.44 L139.20 233.09 L139.70 233.73 L140.20 234.37 L140.70 235.00 L141.20 235.63 L141.70 236.25 L142.20 236.86 L142.70 237.47 L143.20 238.07 L143.70 238.67 L144.20 239.26 L144.70 239.85 L145.20 240.43 L145.70 241.01 L146.20 241.58 L146.70 242.14 L147.20 242.70 L147.70 243.26 L148.20 243.81 L148.70 244.35 L149.20 244.89 L149.70 245.43 L150.20 245.96 L150.70 246.49 L151.20 247.01 L151.70 247.52 L152.20 248.04 L152.70 248.54 L153.20 249.05 L153.70 249.54 L154.20 250.04 L154.70 250.53 L155.20 251.01 L155.70 251.49 L156.20 251.97 L156.70 252.44 L157.20 252.90 L157.70 253.37 L158.20 253.83 L158.70 254.28 L159.20 254.73 L159.70 255.18 L160.20 255.62 L160.70 256.06 L161.20 256.49 L161.70 256.92 L162.20 257.35 L162.70 257.77 L163.20 258.19 L163.70 258.60 L164.20 259.02 L164.70 259.42 L165.20 259.83 L165.70 260.23 L166.20 260.62 L166.70 261.02 L167.20 261.40 L167.70 261.79 L168.20 262.17 L168.70 262.55 L169.20 262.93 L169.70 263.30 L170.20 263.67 L170.70 264.03 L171.20 264.39 L171.70 264.75 L172.20 265.11 L172.70 265.46 L173.20 265.81 L173.70 266.15 L174.20 266.50 L174.70 266.84 L175.20 267.17 L175.70 267.51 L176.20 267.84 L176.70 268.16 L177.20 268.49 L177.70 268.81 L178.20 269.13 L178.70 269.44 L179.20 269.76 L179.70 270.07 L180.20 270.37 L180.70 270.68 L181.20 270.98 L181.70 271.28 L182.20 271.57 L182.70 271.87 L183.20 272.16 L183.70 272.45 L184.20 272.73 L184.70 273.01 L185.20 273.29 L185.70 273.57 L186.20 273.85 L186.70 274.12 L187.20 274.39 L187.70 274.66 L188.20 274.92 L188.70 275.19 L189.20 275.45 L189.70 275.71 L190.20 275.96 L190.70 276.22 L191.20 276.47 L191.70 276.72 L192.20 276.96 L192.70 277.21 L193.20 277.45 L193.70 277.69 L194.20 277.93 L194.70 278.16 L195.20 278.40 L195.70 278.63 L196.20 278.86 L196.70 279.08 L197.20 279.31 L197.70 279.53 L198.20 279.75 L198.70 279.97 L199.20 280.19 L199.70 280.41 L200.20 280.62 L200.70 280.83 L201.20 281.04 L201.70 281.25 L202.20 281.45 L202.70 281.66 L203.20 281.86 L203.70 282.06 L204.20 282.26 L204.70 282.45 L205.20 282.65 L205.70 282.84 L206.20 283.03 L206.70 283.22 L207.20 283.41 L207.70 283.59 L208.20 283.78 L208.70 283.96 L209.20 284.14 L209.70 284.32 L210.20 284.50 L210.70 284.68 L211.20 284.85 L211.70 285.02 L212.20 285.19 L212.70 285.36 L213.20 285.53 L213.70 285.70 L214.20 285.86 L214.70 286.03 L215.20 286.19 L215.70 286.35 L216.20 286.51 L216.70 286.67 L217.20 286.82 L217.70 286.98 L218.20 287.13 L218.70 287.29 L219.20 287.44 L219.70 287.59 L220.20 287.73 L220.70 287.88 L221.20 288.03 L221.70 288.17 L222.20 288.31 L222.70 288.45 L223.20 288.59 L223.70 288.73 L224.20 288.87 L224.70 289.01 L225.20 289.14 L225.70 289.28 L226.20 289.41 L226.70 289.54 L227.20 289.67 L227.70 289.80 L228.20 289.93 L228.70 290.05 L229.20 290.18 L229.70 290.30 L230.20 290.43 L230.70 290.55 L231.20 290.67 L231.70 290.79 L232.20 290.91 L232.70 291.03 L233.20 291.15 L233.70 291.26 L234.20 291.38 L234.70 291.49 L235.20 291.60 L235.70 291.71 L236.20 291.82 L236.70 291.93 L237.20 292.04 L237.70 292.15 L238.20 292.26 L238.70 292.36 L239.20 292.47 L239.70 292.57 L240.20 292.67 L240.70 292.78 L241.20 292.88 L241.70 292.98 L242.20 293.08 L242.70 293.17 L243.20 293.27 L243.70 293.37 L244.20 293.46 L244.70 293.56 L245.20 293.65 L245.70 293.75 L246.20 293.84 L246.70 293.93 L247.20 294.02 L247.70 294.11 L248.20 294.20 L248.70 294.29 L249.20 294.37 L249.70 294.46 L250.20 294.55 L250.70 294.63 L251.20 294.71 L251.70 294.80 L252.20 294.88 L252.70 294.96 L253.20 295.04 L253.70 295.12 L254.20 295.20 L254.70 295.28 L255.20 295.36 L255.70 295.44 L256.20 295.51 L256.70 295.59 L257.20 295.67 L257.70 295.74 L258.20 295.81 L258.70 295.89 L259.20 295.96 L259.70 296.03 L260.20 296.10 L260.70 296.18 L261.20 296.25 L261.70 296.31 L262.20 296.38 L262.70 296.45 L263.20 296.52 L263.70 296.59 L264.20 296.65 L264.70 296.72 L265.20 296.78 L265.70 296.85 L266.20 296.91 L266.70 296.98 L267.20 297.04 L267.70 297.10 L268.20 297.16 L268.70 297.22 L269.20 297.28 L269.70 297.34 L270.20 297.40 L270.70 297.46 L271.20 297.52 L271.70 297.58 L272.20 297.64 L272.70 297.69 L273.20 297.75 L273.70 297.81 L274.20 297.86 L274.70 297.92 L275.20 297.97 L275.70 298.02 L276.20 298.08 L276.70 298.13 L277.20 298.18 L277.70 298.23 L278.20 298.29 L278.70 298.34 L279.20 298.39 L279.70 298.44 L280.20 298.49 L280.70 298.54 L281.20 298.58 L281.70 298.63 L282.20 298.68 L282.70 298.73 L283.20 298.77 L283.70 298.82 L284.20 298.87 L284.70 298.91 L285.20 298.96 L285.70 299.00 L286.20 299.05 L286.70 299.09 L287.20 299.14 L287.70 299.18 L288.20 299.22 L288.70 299.26 L289.20 299.31 L289.70 299.35 L290.20 299.39 L290.70 299.43 L291.20 299.47 L291.70 299.51 L292.20 299.55 L292.70 299.59 L293.20 299.63 L293.70 299.67 L294.20 299.71 L294.70 299.74 L295.20 299.78 L295.70 299.82 L296.20 299.86 L296.70 299.89 L297.20 299.93 L297.70 299.97 L298.20 300.00 L298.70 300.04 L299.20 300.07 L299.70 300.11 L300.20 300.14 L300.70 300.18 L301.20 300.21 L301.70 300.24 L302.20 300.28 L302.70 300.31 L303.20 300.34 L303.70 300.37 L304.20 300.41 L304.70 300.44 L305.20 300.47 L305.70 300.50 L306.20 300.53 L306.70 300.56 L307.20 300.59 L307.70 300.62 L308.20 300.65 L308.70 300.68 L309.20 300.71 L309.70 300.74 L310.20 300.77 L310.70 300.80 L311.20 300.82 L311.70 300.85 L312.20 300.88 L312.70 300.91 L313.20 300.93 L313.70 300.96 L314.20 300.99 L314.70 301.01 L315.20 301.04 L315.70 301.07 L316.20 301.09 L316.70 301.12 L317.20 301.14 L317.70 301.17 L318.20 301.19 L318.70 301.22 L319.20 301.24 L319.70 301.27 L320.20 301.29 L320.70 301.31 L321.20 301.34 L321.70 301.36 L322.20 301.38 L322.70 301.41 L323.20 301.43 L323.70 301.45 L324.20 301.47 L324.70 301.50 L325.20 301.52 L325.70 301.54 L326.20 301.56 L326.70 301.58 L327.20 301.60 L327.70 301.62 L328.20 301.64 L328.70 301.66 L329.20 301.68 L329.70 301.70 L330.20 301.72 L330.70 301.74 L331.20 301.76 L331.70 301.78 L332.20 301.80 L332.70 301.82 L333.20 301.84 L333.70 301.86 L334.20 301.88 L334.70 301.90 L335.20 301.91 L335.70 301.93 L336.20 301.95 L336.70 301.97 L337.20 301.99 L337.70 302.00 L338.20 302.02 L338.70 302.04 L339.20 302.05 L339.70 302.07 L340.20 302.09 L340.70 302.10 L341.20 302.12 L341.70 302.14 L342.20 302.15 L342.70 302.17 L343.20 302.18 L343.70 302.20 L344.20 302.21 L344.70 302.23 L345.20 302.25 L345.70 302.26 L346.20 302.28 L346.70 302.29 L347.20 302.30 L347.70 302.32 L348.20 302.33 L348.70 302.35 L349.20 302.36 L349.70 302.38 L350.20 302.39 L350.70 302.40 L351.20 302.42 L351.70 302.43 L352.20 302.44 L352.70 302.46 L353.20 302.47 L353.70 302.48 L354.20 302.50 L354.70 302.51 L355.20 302.52 L355.70 302.53 L356.20 302.55 L356.70 302.56 L357.20 302.57 L357.70 302.58 L358.20 302.59 L358.70 302.61 L359.20 302.62 L359.70 302.63 L360.20 302.64 L360.70 302.65 L361.20 302.66 L361.70 302.68 L362.20 302.69 L362.70 302.70 L363.20 302.71 L363.70 302.72 L364.20 302.73 L364.70 302.74 L365.20 302.75 L365.70 302.76 L366.20 302.77 L366.70 302.78 L367.20 302.79 L367.70 302.80 L368.20 302.81 L368.70 302.82 L369.20 302.83 L369.70 302.84 L370.20 302.85 L370.70 302.86 L371.20 302.87 L371.70 302.88 L372.20 302.89 L372.70 302.90 L373.20 302.91 L373.70 302.92 L374.20 302.92 L374.70 302.93 L375.20 302.94 L375.70 302.95 L376.20 302.96 L376.70 302.97 L377.20 302.98 L377.70 302.99 L378.20 302.99 L378.70 303.00 L379.20 303.01 L379.70 303.02 L380.20 303.03 L380.70 303.03 L381.20 303.04 L381.70 303.05 L382.20 303.06 L382.70 303.06 L383.20 303.07 L383.70 303.08 L384.20 303.09 L384.70 303.09 L385.20 303.10 L385.70 303.11 L386.20 303.12 L386.70 303.12 L387.20 303.13 L387.70 303.14 L388.20 303.14 L388.70 303.15 L389.20 303.16 L389.70 303.16 L390.20 303.17 L390.70 303.18 L391.20 303.18 L391.70 303.19 L392.20 303.20 L392.70 303.20 L393.20 303.21 L393.70 303.22 L394.20 303.22 L394.70 303.23 L395.20 303.24 L395.70 303.24 L396.20 303.25 L396.70 303.25 L397.20 303.26 L397.70 303.26 L398.20 303.27 L398.70 303.28 L399.20 303.28 L399.70 303.29 L400.20 303.29 L400.70 303.30 L401.20 303.30 L401.70 303.31 L402.20 303.31 L402.70 303.32 L403.20 303.33 L403.70 303.33 L404.20 303.34 L404.70 303.34 L405.20 303.35 L405.70 303.35 L406.20 303.36 L406.70 303.36 L407.20 303.37 L407.70 303.37 L408.20 303.38 L408.70 303.38 L409.20 303.38 L409.70 303.39 L410.20 303.39 L410.70 303.40 L411.20 303.40 L411.70 303.41 L412.20 303.41 L412.70 303.42 L413.20 303.42 L413.70 303.43 L414.20 303.43 L414.70 303.43 L415.20 303.44 L415.70 303.44 L416.20 303.45 L416.70 303.45 L417.20 303.45 L417.70 303.46 L418.20 303.46 L418.70 303.47 L419.20 303.47 L419.70 303.47 L420.20 303.48 L420.70 303.48 L421.20 303.49 L421.70 303.49 L422.20 303.49 L422.70 303.50 L423.20 303.50 L423.70 303.50 L424.20 303.51 L424.70 303.51 L425.20 303.52 L425.70 303.52 L426.20 303.52 L426.70 303.53 L427.20 303.53 L427.70 303.53 L428.20 303.54 L428.70 303.54 L429.20 303.54 L429.70 303.55 L430.20 303.55 L430.70 303.55 L431.20 303.56 L431.70 303.56 L432.20 303.56 L432.70 303.56 L433.20 303.57 L433.70 303.57 L434.20 303.57 L434.70 303.58 L435.20 303.58 L435.70 303.58 L436.20 303.59 L436.70 303.59 L437.20 303.59 L437.70 303.59 L438.20 303.60 L438.70 303.60 L439.20 303.60 L439.70 303.60 L440.20 303.61 L440.70 303.61 L441.20 303.61 L441.70 303.62 L442.20 303.62 L442.70 303.62 L443.20 303.62 L443.70 303.63 L444.20 303.63 L444.70 303.63 L445.20 303.63 L445.70 303.64 L446.20 303.64 L446.70 303.64 L447.20 303.64 L447.70 303.64 L448.20 303.65 L448.70 303.65 L449.20 303.65 L449.70 303.65 L450.20 303.66 L450.70 303.66 L451.20 303.66 L451.70 303.66 L452.20 303.66 L452.70 303.67 L453.20 303.67 L453.70 303.67 L454.20 303.67 L454.70 303.68 L455.20 303.68 L455.70 303.68 L456.20 303.68 L456.70 303.68 L457.20 303.69 L457.70 303.69 L458.20 303.69 L458.70 303.69 L459.20 303.69 L459.70 303.69 L460.20 303.70 L460.70 303.70 L461.20 303.70 L461.70 303.70 L462.20 303.70 L462.70 303.71 L463.20 303.71 L463.70 303.71 L464.20 303.71 L464.70 303.71 L465.20 303.71 L465.70 303.72 L466.20 303.72 L466.70 303.72 L467.20 303.72 L467.70 303.72 L468.20 303.72 L468.70 303.73 L469.20 303.73 L469.70 303.73 L470.20 303.73 L470.70 303.73 L471.20 303.73 L471.70 303.74 L472.20 303.74 L472.70 303.74 L473.20 303.74 L473.70 303.74" stroke="#0000ff" stroke-width="1.9" stroke-linecap="round" stroke-dasharray="0.2 3.3"/>
</g>
<g stroke="#000" fill="none"><line x1="62.7" y1="16.95" x2="62.7" y2="304.4" stroke-width="2.9"/><line x1="474.0" y1="16.95" x2="474.0" y2="305.5" stroke-width="3.1"/><line x1="61.300000000000004" y1="18.4" x2="475.5" y2="18.4" stroke-width="2.9"/><line x1="62.400000000000006" y1="304.0" x2="475.5" y2="304.0" stroke-width="3.2"/></g>
<text transform="translate(64.10 325) scale(1.015 1.065)" text-anchor="middle">0</text><text transform="translate(133.25 325) scale(1.015 1.065)" text-anchor="middle">50000</text><text transform="translate(201.80 325) scale(1.015 1.065)" text-anchor="middle">100000</text><text transform="translate(270.35 325) scale(1.015 1.065)" text-anchor="middle">150000</text><text transform="translate(338.90 325) scale(1.015 1.065)" text-anchor="middle">200000</text><text transform="translate(407.45 325) scale(1.015 1.065)" text-anchor="middle">250000</text><text transform="translate(476.00 325) scale(1.015 1.065)" text-anchor="middle">300000</text>
<text transform="translate(53.3 309.60) scale(1.015 1.075)" text-anchor="end">0.5</text><text transform="translate(53.3 252.46) scale(1.015 1.075)" text-anchor="end">0.6</text><text transform="translate(53.3 195.32) scale(1.015 1.075)" text-anchor="end">0.7</text><text transform="translate(53.3 138.18) scale(1.015 1.075)" text-anchor="end">0.8</text><text transform="translate(53.3 81.04) scale(1.015 1.075)" text-anchor="end">0.9</text><text transform="translate(53.3 23.90) scale(1.015 1.075)" text-anchor="end">1</text>
<text x="268.7" y="347" text-anchor="middle">t/Δt</text>
<text transform="translate(8 164.8) scale(1.06 1)" style="font-size:16px">ρ</text><text transform="translate(16 169.2) scale(1.13 1.1)" style="font-size:11px">gg</text>
</svg>
</body></html>
